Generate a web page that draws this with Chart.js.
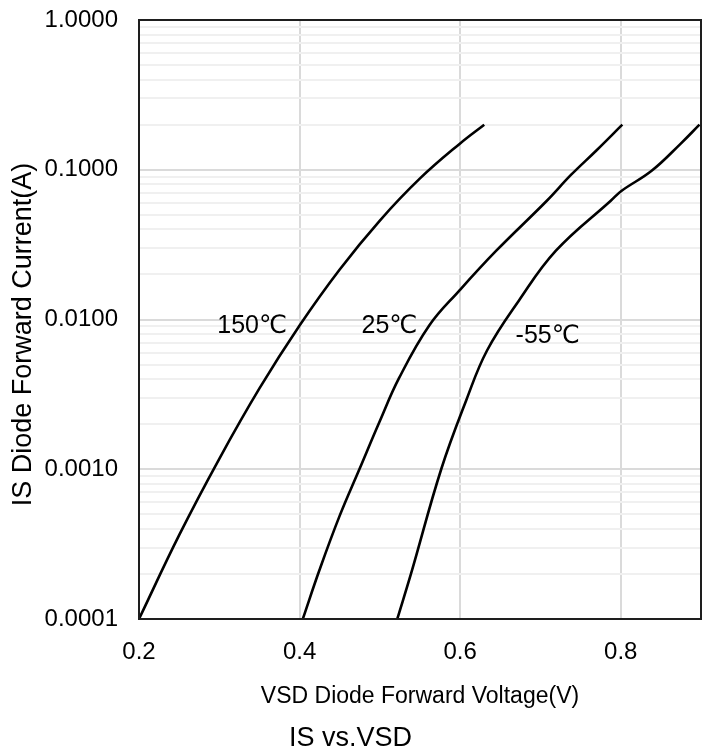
<!DOCTYPE html>
<html>
<head>
<meta charset="utf-8">
<script src="https://cdn.jsdelivr.net/npm/chart.js@4/dist/chart.umd.min.js"></script>
<style>
html,body{margin:0;padding:0;background:#fff;}
#wrap{width:702px;height:753px;position:relative;}
</style>
</head>
<body>
<div id="wrap"><canvas id="c"></canvas></div>
<script>
// ---- data ----
const seriesNames = ['150℃', '25℃', '-55℃'];

const voltage150 = [0.200, 0.250, 0.300, 0.350, 0.400, 0.450, 0.500, 0.550, 0.600, 0.630];
const current150 = [0.0001, 0.000363, 0.001175, 0.003467, 0.00912, 0.02158, 0.0458, 0.0875, 0.150, 0.2];

const voltage25 = [0.404, 0.425, 0.450, 0.4745, 0.500, 0.524, 0.5615, 0.599, 0.645, 0.708, 0.738, 0.770, 0.802];
const current25 = [0.0001, 0.000214, 0.00049, 0.001, 0.0021, 0.00407, 0.00912, 0.0156, 0.0288, 0.0621, 0.0923, 0.135, 0.2];

const voltageM55 = [0.5217, 0.5391, 0.5764, 0.6075, 0.6335, 0.6733, 0.7193, 0.7876, 0.8012, 0.8385, 0.8745, 0.8981];
const currentM55 = [0.0001, 0.000203, 0.001, 0.00288, 0.00621, 0.0134, 0.0288, 0.0621, 0.0724, 0.0984, 0.149, 0.2];

// curve label anchors (data units)
const labelVoltage = [0.341, 0.512, 0.709];
const labelCurrent = [0.0091, 0.0091, 0.0078];

// tick labels
const xTickValues = [0.2, 0.4, 0.6, 0.8];
const yMajorTicks = [0.0001, 0.001, 0.01, 0.1, 1];
const yMinorMultipliers = [2, 3, 4, 5, 6, 7, 8, 9];

// ---- build ----
const FONT = "'Liberation Sans', Arial, 'DejaVu Sans', sans-serif";
Chart.defaults.font.family = FONT;
Chart.defaults.color = '#000';

function toPoints(xs, ys) { return xs.map((x, i) => ({x: x, y: ys[i]})); }

const yTickList = [];
yMajorTicks.forEach((d, i) => {
  yTickList.push(d);
  if (i < yMajorTicks.length - 1) {
    yMinorMultipliers.forEach(m => yTickList.push(m * d));
  }
});

const seriesX = [voltage150, voltage25, voltageM55];
const seriesY = [current150, current25, currentM55];

const datasets = seriesNames.map((name, i) => ({
  label: name,
  data: toPoints(seriesX[i], seriesY[i]),
  borderColor: '#000',
  backgroundColor: '#000',
  borderWidth: 2.6,
  pointRadius: 0,
  fill: false,
  tension: 0.4
}));

const boxPlugin = {
  id: 'boxPlugin',
  afterDatasetsDraw(chart) {
    const {ctx, chartArea: a, scales} = chart;
    ctx.save();
    ctx.font = "25px " + FONT;
    ctx.fillStyle = '#000';
    ctx.textAlign = 'center';
    ctx.textBaseline = 'middle';
    seriesNames.forEach((n, i) => {
      ctx.fillText(n, scales.x.getPixelForValue(labelVoltage[i]), scales.y.getPixelForValue(labelCurrent[i]));
    });
    ctx.strokeStyle = '#1e1e1e';
    ctx.lineWidth = 2;
    ctx.strokeRect(a.left, a.top, a.right - a.left, a.bottom - a.top);
    ctx.restore();
  }
};

new Chart(document.getElementById('c'), {
  type: 'line',
  data: {datasets: datasets},
  options: {
    responsive: true,
    maintainAspectRatio: false,
    animation: false,
    layout: {padding: {top: 20, right: 1, left: 0, bottom: 0}},
    plugins: {
      legend: {display: false},
      tooltip: {enabled: false},
      title: {
        display: true,
        text: 'IS vs.VSD',
        position: 'bottom',
        color: '#000',
        font: {size: 27, weight: 'normal', lineHeight: 1},
        padding: {top: 11, bottom: 1}
      }
    },
    scales: {
      x: {
        type: 'linear',
        min: 0.2,
        max: 0.9,
        afterBuildTicks(s) { s.ticks = xTickValues.map(v => ({value: v})); },
        afterFit(s) { s.height = 95; s.paddingLeft = 0; s.paddingRight = 0; },
        border: {display: false},
        grid: {color: '#dadada', lineWidth: 2, drawTicks: false},
        ticks: {
          font: {size: 24},
          color: '#000',
          padding: 19,
          maxRotation: 0,
          autoSkip: false,
          callback: v => Number(v).toFixed(1)
        },
        title: {
          display: true,
          text: 'VSD Diode Forward Voltage(V)',
          color: '#000',
          font: {size: 23},
          padding: {top: 0, bottom: 4}
        }
      },
      y: {
        type: 'logarithmic',
        min: 0.0001,
        max: 1,
        afterBuildTicks(s) { s.ticks = yTickList.map(v => ({value: v, major: false})); },
        afterFit(s) { s.width = 139; s.paddingTop = 0; s.paddingBottom = 0; },
        border: {display: false},
        grid: {
          drawTicks: false,
          lineWidth: 2,
          color: ctx => {
            const v = ctx.tick ? ctx.tick.value : null;
            return (v !== null && yMajorTicks.includes(v)) ? '#dadada' : '#f0f0f0';
          }
        },
        ticks: {
          font: {size: 24},
          color: '#000',
          padding: 21,
          autoSkip: false,
          callback: v => yMajorTicks.includes(v) ? Number(v).toFixed(4) : ''
        },
        title: {
          display: true,
          text: 'IS Diode Forward Current(A)    ',
          color: '#000',
          font: {size: 27},
          padding: {top: 7, bottom: 0}
        }
      }
    }
  },
  plugins: [boxPlugin]
});
</script>
</body>
</html>
